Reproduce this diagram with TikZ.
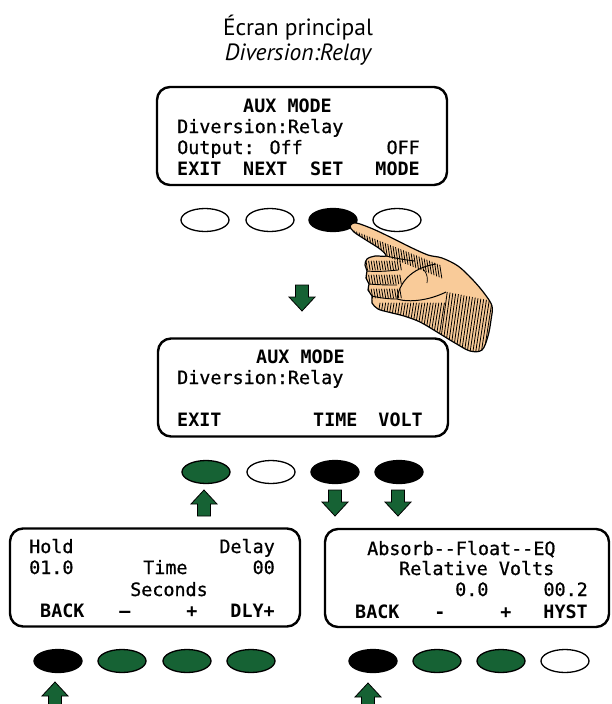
\documentclass[tikz,border=0pt]{standalone}
\usepackage{fontspec}
\setmainfont{PT Sans}
\setmonofont{DejaVu Sans Mono}
\newfontfamily\lcdface{DejaVu Sans Mono}[FakeBold=0.8]
\usetikzlibrary{shapes.geometric}

\definecolor{keygreen}{RGB}{22,98,52}
\definecolor{skin}{RGB}{249,203,153}

% display font of the charge controller
\newcommand\lcdfont{\fontsize{18.4}{21}\selectfont\lcdface}
\newcommand\lcdbold{\fontsize{18.4}{21}\selectfont\ttfamily\bfseries}

\tikzset{
  screen/.style={draw, line width=2.4pt, rounded corners=13pt,
    minimum width=290pt, minimum height=98pt},
  btn/.style={draw, ellipse, line width=1.3pt, minimum width=48pt,
    minimum height=23pt, inner sep=0pt},
  btnoff/.style={btn, fill=white},
  btnon/.style={btn, fill=black},
  btngo/.style={btn, fill=keygreen},
  txt/.style={inner sep=0pt, font=\lcdfont},
  txtb/.style={inner sep=0pt, font=\lcdbold},
  hatch/.style={draw=black, line width=0.8pt, line cap=round},
  arrowdn/.pic={
    \filldraw[fill=keygreen, line width=0.8pt]
      (-6.5,0) -- (6.5,0) -- (6.5,12) -- (13,12) -- (0,26)
      -- (-13,12) -- (-6.5,12) -- cycle;},
  arrowup/.pic={
    \filldraw[fill=keygreen, line width=0.8pt]
      (0,0) -- (13,14) -- (6.5,14) -- (6.5,26) -- (-6.5,26)
      -- (-6.5,14) -- (-13,14) -- cycle;}
}

\begin{document}
\begin{tikzpicture}[x=1pt,y=-1pt]
  \useasboundingbox (0,0) rectangle (611,704);
  \clip (0,0) rectangle (611,704);

  % heading
  \node[font=\fontsize{23.5}{26}\selectfont, anchor=base] (title) at (298,35) {Écran principal};
  \node[font=\fontsize{23.5}{26}\selectfont\itshape, anchor=base] (subtitle) at (298,60) {Diversion:Relay};

  % main screen
  \node[screen] (scrMain) at (302,136) {};
  \node[txtb, anchor=base west] (m1) at (243,112) {AUX MODE};
  \node[txt, anchor=base west] (m2) at (177,133) {Diversion:Relay};
  \node[txt, anchor=base west] (m3) at (177,154) {Output: Off};
  \node[txt, anchor=base east] (m3b) at (420,154) {OFF};
  \node[txtb, anchor=base west] (m4a) at (177,175) {EXIT};
  \node[txtb, anchor=base west] (m4b) at (243,175) {NEXT};
  \node[txtb, anchor=base west] (m4c) at (310,175) {SET};
  \node[txtb, anchor=base east] (m4d) at (420,175) {MODE};

  \node[btnoff] (k1a) at (205,220) {};
  \node[btnoff] (k1b) at (270,220) {};
  \node[btnon]  (k1c) at (333,220) {};
  \node[btnoff] (k1d) at (397,220) {};

  \pic at (302,285) {arrowdn};

  % aux mode screen
  \node[screen] (scrAux) at (303,387.5) {};
  \node[txtb, anchor=base west] (a1) at (256,363) {AUX MODE};
  \node[txt, anchor=base west] (a2) at (177,384) {Diversion:Relay};
  \node[txtb, anchor=base west] (a4a) at (177,426) {EXIT};
  \node[txtb, anchor=base west] (a4b) at (313,426) {TIME};
  \node[txtb, anchor=base east] (a4c) at (423,426) {VOLT};

  \node[btngo]  (k2a) at (206,472) {};
  \node[btnoff] (k2b) at (271,472) {};
  \node[btnon]  (k2c) at (335,472) {};
  \node[btnon]  (k2d) at (399,472) {};

  \pic at (204,490) {arrowup};
  \pic at (335,490) {arrowdn};
  \pic at (398,490) {arrowdn};

  % delay time screen
  \node[screen] (scrTime) at (155,577.5) {};
  \node[txt, anchor=base west] (t1a) at (29,553) {Hold};
  \node[txt, anchor=base east] (t1b) at (275,553) {Delay};
  \node[txt, anchor=base west] (t2a) at (29,574) {01.0};
  \node[txt, anchor=base west] (t2b) at (143,574) {Time};
  \node[txt, anchor=base east] (t2c) at (275,574) {00};
  \node[txt, anchor=base west] (t3) at (130,596) {Seconds};
  \node[txtb, anchor=base west] (t4a) at (40,617) {BACK};
  \node[txtb, anchor=base] (t4b) at (125,617) {–};
  \node[txtb, anchor=base] (t4c) at (192,617) {+};
  \node[txtb, anchor=base east] (t4d) at (275,617) {DLY+};

  \node[btnon] (k3a) at (58,661) {};
  \node[btngo] (k3b) at (122,661) {};
  \node[btngo] (k3c) at (187,661) {};
  \node[btngo] (k3d) at (251,661) {};
  \pic at (55,682) {arrowup};

  % relative volts screen
  \node[screen, minimum width=284pt] (scrVolt) at (467,578) {};
  \node[txt, anchor=base west] (v1) at (367,555) {Absorb--Float--EQ};
  \node[txt, anchor=base west] (v2) at (399,575) {Relative Volts};
  \node[txt, anchor=base west] (v3a) at (455,596) {0.0};
  \node[txt, anchor=base east] (v3b) at (588,596) {00.2};
  \node[txtb, anchor=base west] (v4a) at (355,618) {BACK};
  \node[txtb, anchor=base] (v4b) at (440,618) {-};
  \node[txtb, anchor=base] (v4c) at (506,618) {+};
  \node[txtb, anchor=base east] (v4d) at (588,618) {HYST};

  \node[btnon]  (k4a) at (373,661) {};
  \node[btngo]  (k4b) at (437,661) {};
  \node[btngo]  (k4c) at (501,661) {};
  \node[btnoff] (k4d) at (565,661) {};
  \pic at (368,683) {arrowup};

  % pointing hand on the SET key, engraved look
  \path[fill=skin, path picture={
      % index finger, lower half
      \foreach \x in {354,356.6,...,442}
        \draw[hatch] (\x,{230+0.4*(\x-352)}) -- ++(2,13);
      % curled fingers
      \foreach \y in {261,275,289}
        \foreach \x in {366,368.6,...,402}
          \draw[hatch] (\x,\y) -- ++(1.5,9);
      % palm and wrist, up to the thumb
      \foreach \x in {380,382.8,...,500}
        \draw[hatch] ({\x-10},366) -- (\x,{ifthenelse(\x<446,303,292+0.2*(\x-446))});
    }]
    plot[smooth cycle, tension=0.55] coordinates {
      (350,226) (356,223) (373,229) (392,238) (410,247) (428,255) (442,258)
      (458,266) (472,279) (484,293) (492,306) (491,320) (488,336) (482,350)
      (470,351) (455,343) (437,332) (420,322) (404,316) (388,312) (378,309)
      (372,303) (372,296) (368,290) (369,284) (366,278) (367,271) (365,265)
      (367,259) (375,256) (386,256) (380,249) (366,240) (354,232)};
  \draw[line width=1.2pt]
    plot[smooth cycle, tension=0.55] coordinates {
      (350,226) (356,223) (373,229) (392,238) (410,247) (428,255) (442,258)
      (458,266) (472,279) (484,293) (492,306) (491,320) (488,336) (482,350)
      (470,351) (455,343) (437,332) (420,322) (404,316) (388,312) (378,309)
      (372,303) (372,296) (368,290) (369,284) (366,278) (367,271) (365,265)
      (367,259) (375,256) (386,256) (380,249) (366,240) (354,232)};
  % thumb and finger creases
  \draw[line width=1pt] (397,299) .. controls (399,284) and (410,268) .. (436,264);
  \draw[line width=1pt] (397,299) .. controls (410,303) and (430,300) .. (446,292);
  \draw[line width=0.9pt] (386,256) .. controls (395,258) and (405,260) .. (415,261);
  \draw[line width=0.9pt] (367,271) .. controls (378,272) and (388,271) .. (398,270);
  \draw[line width=0.9pt] (369,284) .. controls (380,285) and (390,285) .. (397,285);
  \draw[line width=0.9pt] (372,296) .. controls (380,298) and (389,299) .. (397,299);
  \draw[line width=0.7pt] (424,270) .. controls (427,274) and (428,278) .. (427,283);
\end{tikzpicture}
\end{document}
